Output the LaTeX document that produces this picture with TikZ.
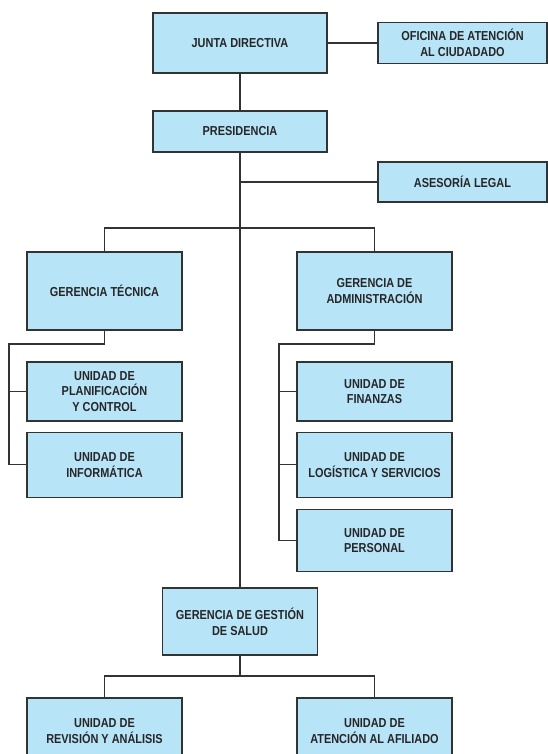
\documentclass[tikz,border=0pt]{standalone}
\usepackage{fontspec}
\setmainfont{Liberation Sans}[FakeStretch=0.84]
\usetikzlibrary{positioning}
\definecolor{boxfill}{HTML}{B8E4F8}
\definecolor{ink}{HTML}{333333}
\definecolor{textink}{HTML}{262626}
\tikzset{unit/.style={draw=ink, line width=1.3pt, fill=boxfill, align=center, inner sep=2pt,
  text=textink, font=\fontsize{13}{15.8}\selectfont\bfseries}}
\tikzset{link/.style={draw=ink, line width=1.3pt}}

\begin{document}
\begin{tikzpicture}[x=1pt, y=-1pt]
\useasboundingbox (0,0) rectangle (548,754);
\clip (0,0) rectangle (548,754);

\node[unit, minimum width=174pt, minimum height=60pt] (jd) at (240,43) {JUNTA DIRECTIVA};
\node[unit, minimum width=169pt, minimum height=41pt] (ofi) at (462.5,43) {OFICINA DE ATENCIÓN\\AL CIUDADADO};
\node[unit, minimum width=174pt, minimum height=41pt] (pres) at (240,131.5) {PRESIDENCIA};
\node[unit, minimum width=169pt, minimum height=40pt] (ases) at (462.5,182) {ASESORÍA LEGAL};

\node[unit, minimum width=155pt, minimum height=78pt] (gt) at (104.5,291) {GERENCIA TÉCNICA};
\node[unit, minimum width=155pt, minimum height=78pt] (ga) at (374.5,291) {GERENCIA DE\\ADMINISTRACIÓN};

\node[unit, minimum width=155pt, minimum height=59pt] (upc) at (104.5,391.5) {UNIDAD DE\\PLANIFICACIÓN\\Y CONTROL};
\node[unit, minimum width=155pt, minimum height=65pt, below=10pt of upc] (uinf) {UNIDAD DE\\INFORMÁTICA};

\node[unit, minimum width=155pt, minimum height=59pt] (ufin) at (374.5,391.5) {UNIDAD DE\\FINANZAS};
\node[unit, minimum width=155pt, minimum height=65pt, below=10pt of ufin] (ulog) {UNIDAD DE\\LOGÍSTICA Y SERVICIOS};
\node[unit, minimum width=155pt, minimum height=62pt, below=11pt of ulog] (uper) {UNIDAD DE\\PERSONAL};

\node[unit, minimum width=155pt, minimum height=67pt] (ggs) at (240,621.5) {GERENCIA DE GESTIÓN\\DE SALUD};
\node[unit, minimum width=155pt, minimum height=66pt] (urev) at (104.5,731) {UNIDAD DE\\REVISIÓN Y ANÁLISIS};
\node[unit, minimum width=155pt, minimum height=66pt] (uaf) at (374.5,731) {UNIDAD DE\\ATENCIÓN AL AFILIADO};

\coordinate (br) at (240,228);
\coordinate (gtl) at (9,344);
\coordinate (gal) at (279,344);
\coordinate (gsb) at (240,676);

\draw[link] (jd) -- (pres);
\draw[link] (jd) -- (ofi);
\draw[link] (pres) -- (ggs);
\draw[link] (ases.west) -- (ases.west -| pres.south);

\draw[link] (gt.north) |- (br) -| (ga.north);

\draw[link] (gt.south) |- (gtl) |- (uinf.west);
\draw[link] (upc.west) -- (upc.west -| gtl);

\draw[link] (ga.south) |- (gal) |- (uper.west);
\draw[link] (ufin.west) -- (ufin.west -| gal);
\draw[link] (ulog.west) -- (ulog.west -| gal);

\draw[link] (ggs) -- (gsb);
\draw[link] (urev.north) |- (gsb) -| (uaf.north);

\end{tikzpicture}
\end{document}
